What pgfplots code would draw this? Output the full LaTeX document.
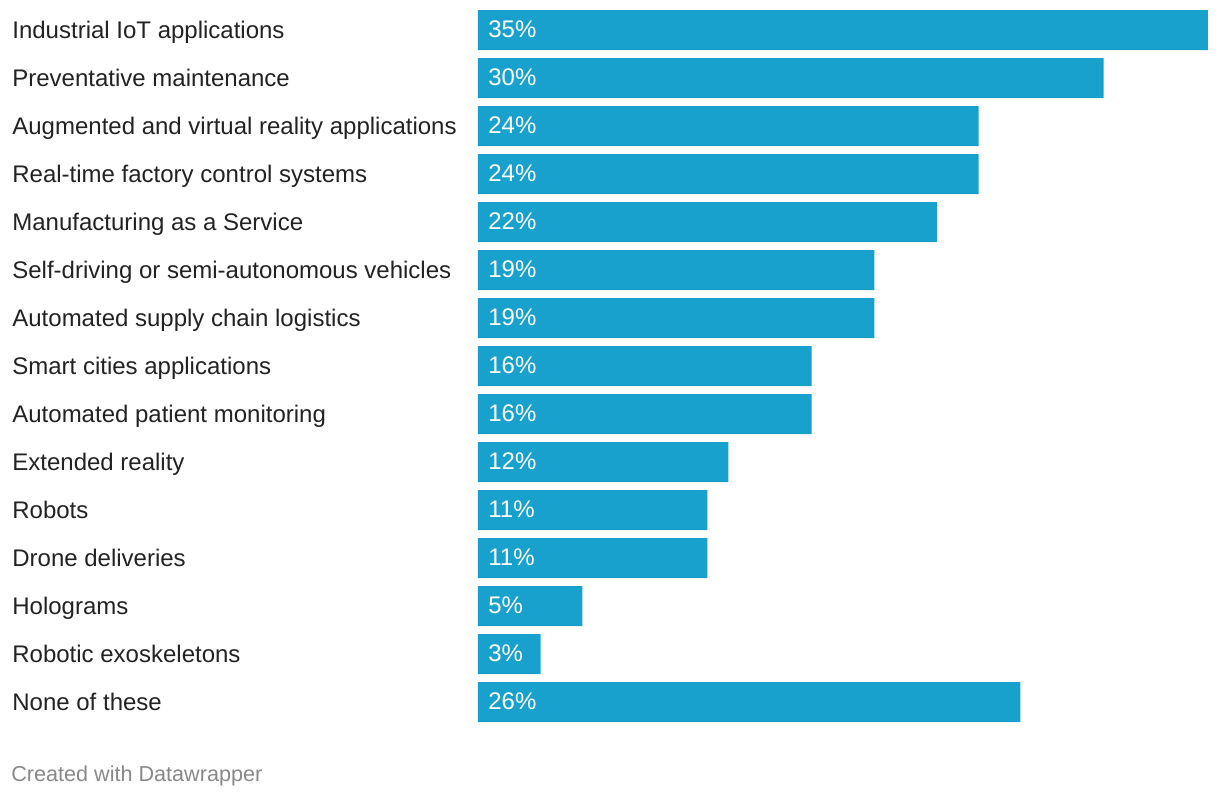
\documentclass[border=0pt]{standalone}
\usepackage{pgfplots}
\usepackage{pgfplotstable}
\pgfplotsset{compat=1.18}
\usepackage{fontspec}
\setmainfont{Liberation Sans}
\definecolor{barblue}{HTML}{18A1CD}
\definecolor{labelgray}{HTML}{222222}
\definecolor{footgray}{HTML}{888888}

\pgfplotstableread[col sep=comma]{
y,label,value
0,Industrial IoT applications,35
1,Preventative maintenance,30
2,Augmented and virtual reality applications,24
3,Real-time factory control systems,24
4,Manufacturing as a Service,22
5,Self-driving or semi-autonomous vehicles,19
6,Automated supply chain logistics,19
7,Smart cities applications,16
8,Automated patient monitoring,16
9,Extended reality,12
10,Robots,11
11,Drone deliveries,11
12,Holograms,5
13,Robotic exoskeletons,3
14,None of these,26
}\data

\begin{document}
\begin{tikzpicture}
\begin{axis}[
  scale only axis,
  width=365pt, height=360pt,
  xmin=0, xmax=35,
  ymin=-0.5, ymax=14.5,
  y dir=reverse,
  axis line style={draw=none},
  major tick length=0pt,
  xtick=\empty,
  ytick={0,...,14},
  yticklabels from table={\data}{label},
  yticklabel style={anchor=base west, xshift=-233pt, yshift=-4pt, inner sep=0pt,
    font=\fontsize{12pt}{14pt}\selectfont, text=labelgray},
  /pgf/number format/assume math mode=true,
  clip=false,
]
\addplot[xbar, bar width=20pt, bar shift=0pt, fill=barblue, draw=none]
  table[x=value, y=y] {\data};
\addplot[draw=none, mark=none, point meta=explicit,
  nodes near coords={\pgfmathprintnumber[assume math mode=true]{\pgfplotspointmeta}\%},
  every node near coord/.append style={anchor=base west, xshift=5pt, yshift=-3.85pt,
    inner sep=0pt, text=white, font=\fontsize{12pt}{14pt}\selectfont}]
  table[x expr=0, y=y, meta=value] {\data};
\end{axis}
\node[anchor=base west, inner sep=0pt, text=footgray, font=\fontsize{10.8pt}{12pt}\selectfont]
  at ([xshift=-233.5pt, yshift=-27.5pt]current axis.south west) {Created with Datawrapper};
\pgfresetboundingbox
\path ([xshift=-239pt, yshift=3pt]current axis.north west) rectangle ([xshift=6pt, yshift=-36pt]current axis.south east);
\end{tikzpicture}
\end{document}
